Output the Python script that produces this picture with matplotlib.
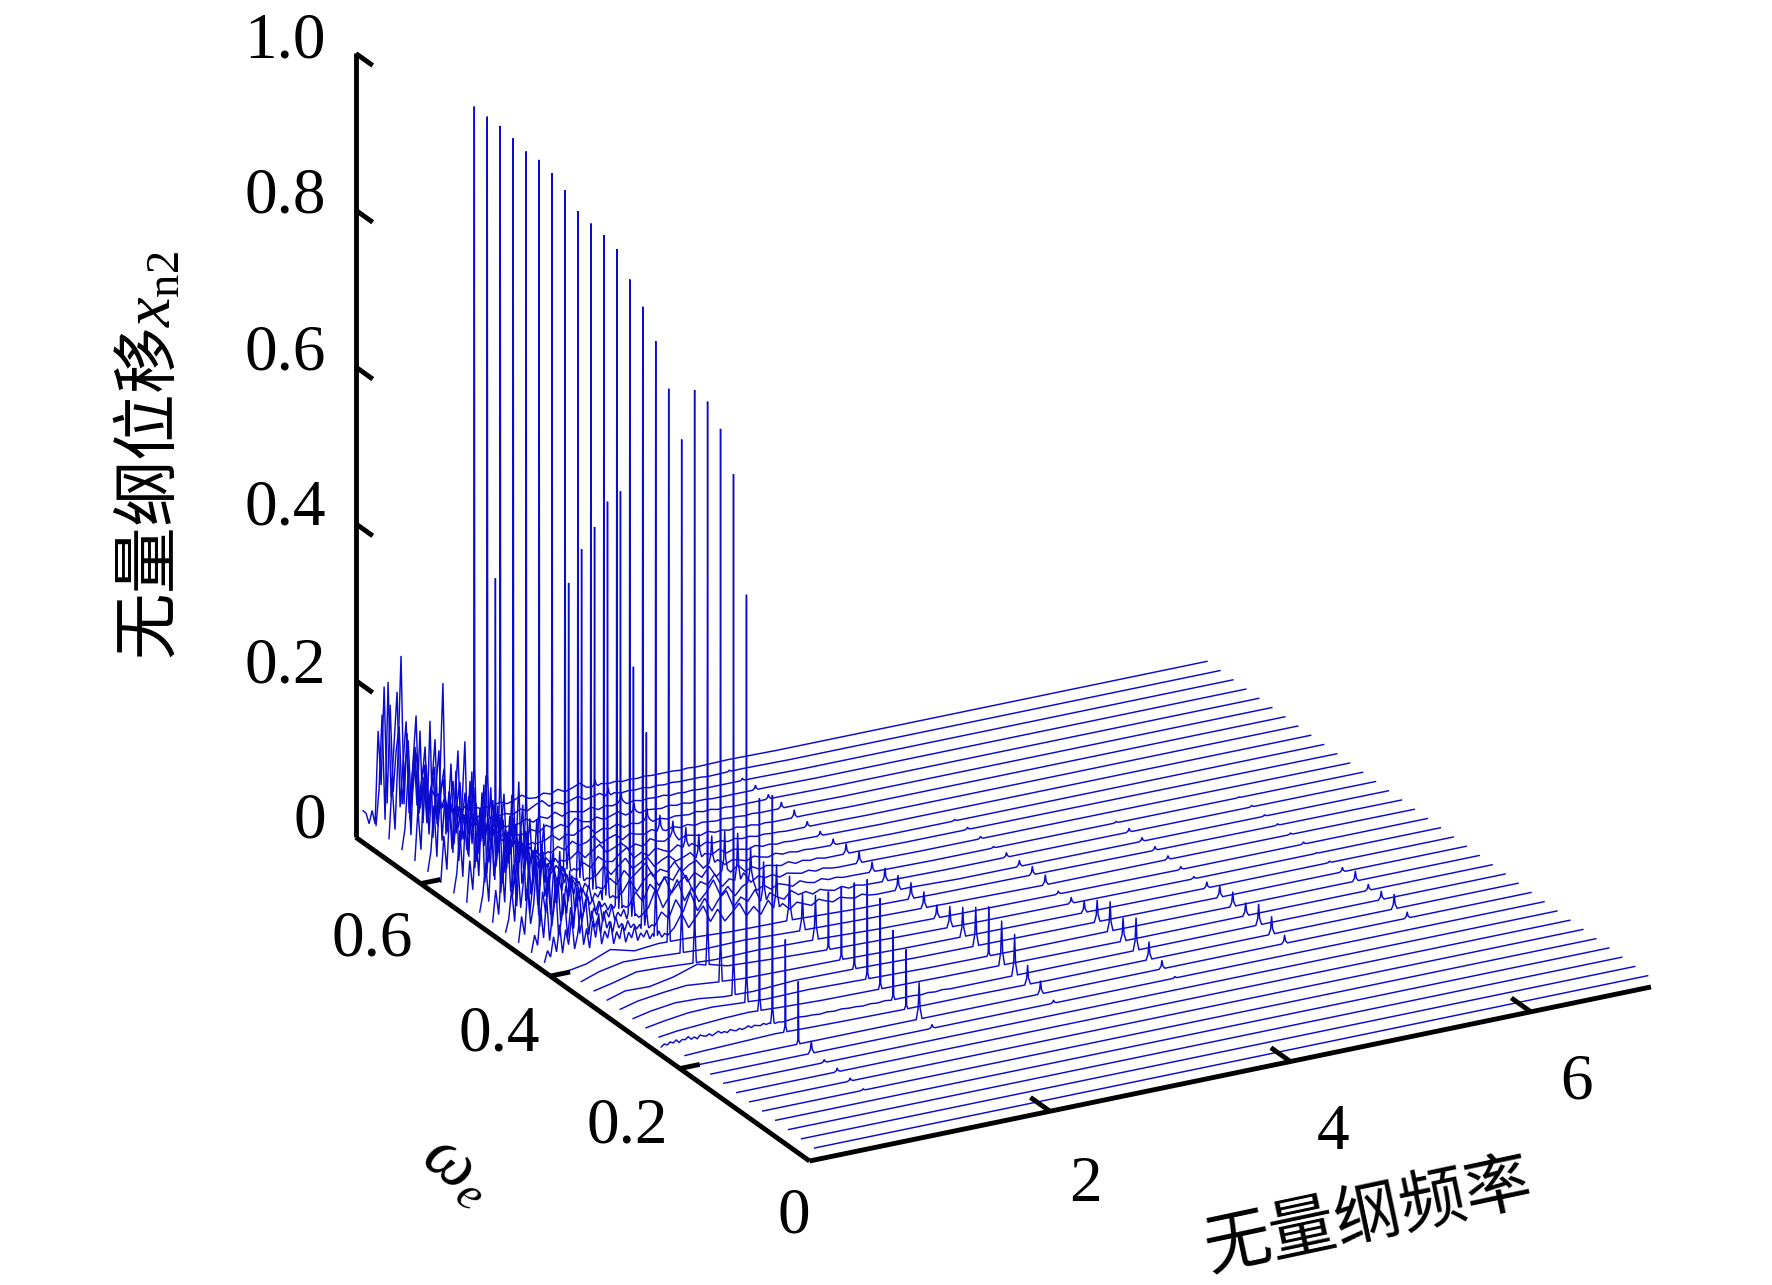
import matplotlib
matplotlib.use("Agg")
import matplotlib.pyplot as plt
import numpy as np
from mpl_toolkits.mplot3d import proj3d

plt.rcParams['font.family'] = ['Liberation Serif', 'DejaVu Sans']
plt.rcParams['mathtext.fontset'] = 'custom'
plt.rcParams['mathtext.rm'] = 'Liberation Serif'
plt.rcParams['mathtext.it'] = 'Liberation Serif:italic'

# traces run front to back, one per excitation frequency
omega_e = [round(0.02 * k, 2) for k in range(1, 36)]

# heights of the harmonic lines, index = trace number - 1
line_f = [0.985, 1.99, 3.0, 4.01, 5.03, 6.05]
line_1 = [0, 0, 0, 0, .002, .004, .005, .004, .016, .08, .118, .294, .278, .526, .668, .714, .737, .74, .665,
          .718, .767, .799, .822, .849, .855, .858, .862, .877, .887, .892, .891, .896, .9, .9, .901]
line_2 = [0, 0, 0, 0, 0, 0, 0, 0, .005, .047, .076, .089, .116, .127, .11, .093, .074, .057, .047,
          .057, .055, .05, .045, .06, .05, .035, .03, .025, .02, .02, .015, .012, .012, .01, .008]
line_3 = [0, 0, 0, 0, 0, 0, 0, 0, .004, .017, .025, .053, .057, .063, .05, .038, .027, .017, .021,
          .021, .019, .017, .013, .015, .013, .008, .006, .007, .01, .008, .006, .006, .003, .002, 0]
line_4 = [0, 0, 0, 0, 0, 0, 0, 0, .002, .011, .023, .042, .03, .038, .028, .015, .008, .004, .013,
          .011, .008, .006, .002, .003, .003, .002, 0, 0, 0, 0, 0, 0, 0, 0, 0]
line_5 = [0, 0, 0, 0, 0, 0, 0, 0, 0, .011, .023, .027, .017, .019, .015, .008, .003, .004, .005,
          .005, .005, .005, .002, 0, 0, 0, 0, 0, 0, 0, 0, 0, 0, 0, 0]
line_6 = [0, 0, 0, 0, 0, 0, 0, 0, 0, .008, .019, .011, .008, .013, .006, .002, .001, .003, .002,
          .002, .002, .002, .001, 0, 0, 0, 0, 0, 0, 0, 0, 0, 0, 0, 0]
line_amps = [line_1, line_2, line_3, line_4, line_5, line_6]

# the second, lower line next to the main one on some traces
side_trace = [22, 23, 24, 25, 26, 27, 28, 33]
side_f = [1.015, 1.015, 1.015, 1.015, 1.015, 1.015, 1.015, 0.945]
side_amp = [.255, .327, .539, .514, .47, .43, .375, .324]

# slow baseline of the quiet traces, thousandths
base_f = [.15, .3, .5, .7, .9, 1.15, 1.5, 2.0, 2.5, 3.2, 4.0, 5.0, 7.08]
base_rows = {
    11: [0, 1, 2, 3, 4, 3, 2, 1, 1, 0, 0, 0, 0],
    13: [0, 3, 5, 7, 8, 6, 4, 3, 2, 1, 0, 0, 0],
    14: [0, 4, 8, 9, 7, 5, 6, 4, 2, 1, 1, 0, 0],
    15: [0, 5, 9, 8, 4, 3, 6, 5, 3, 2, 1, 0, 0],
    16: [0, 6, 10, 13, 10, 7, 6, 5, 3, 2, 1, 0, 0],
    17: [0, 7, 6, 12, 22, 12, 9, 6, 4, 2, 1, 0, 0],
    18: [0, 5, 13, 12, 10, 8, 9, 7, 4, 2, 1, 0, 0],
    19: [0, 8, 14, 13, 11, 9, 10, 7, 5, 3, 1, 1, 0],
    20: [2, 6, 18, 10, 13, 12, 9, 8, 5, 3, 2, 1, 0],
}

# dense noisy part of the back traces, thousandths
noise_f = [round(.06 + .025 * i, 3) for i in range(42)]
noise_rows = {
    12: [2, 5, 3, 6, 4, 7, 3, 6, 5, 8, 4, 6, 3, 7, 5, 4, 6, 3, 5, 7, 4,
         5, 3, 6, 4, 3, 5, 3, 4, 6, 3, 5, 4, 3, 5, 3, 4, 3, 2, 3, 2, 2],
    21: [4, 18, 9, 34, 14, 48, 11, 40, 20, 55, 13, 30, 62, 16, 36, 10, 44, 22, 52, 12, 28,
         18, 38, 9, 24, 14, 32, 8, 20, 12, 26, 7, 16, 10, 18, 6, 12, 8, 14, 5, 9, 6],
    22: [5, 26, 12, 58, 20, 70, 15, 48, 88, 18, 40, 66, 14, 52, 24, 76, 16, 36, 58, 12, 42,
         20, 30, 11, 38, 16, 24, 9, 28, 13, 18, 8, 20, 10, 14, 7, 12, 6, 10, 5, 8, 6],
    23: [6, 38, 14, 72, 26, 50, 105, 20, 64, 36, 92, 17, 48, 78, 22, 56, 30, 84, 15, 40, 60,
         18, 34, 46, 13, 30, 20, 36, 10, 24, 14, 28, 9, 18, 12, 20, 7, 14, 8, 11, 6, 8],
    24: [7, 22, 60, 18, 95, 34, 70, 128, 24, 58, 88, 20, 110, 42, 66, 17, 78, 30, 96, 14, 50,
         36, 62, 16, 28, 44, 12, 34, 20, 26, 10, 22, 14, 18, 8, 15, 9, 12, 6, 10, 7, 8],
    25: [8, 48, 16, 84, 30, 118, 42, 76, 22, 100, 150, 26, 64, 36, 92, 18, 70, 120, 24, 52, 80,
         16, 44, 30, 58, 14, 36, 22, 42, 12, 26, 16, 30, 9, 18, 12, 20, 7, 13, 8, 10, 6],
    26: [9, 30, 70, 20, 104, 46, 140, 28, 86, 58, 124, 22, 74, 165, 34, 60, 96, 18, 50, 112, 26,
         68, 40, 20, 56, 30, 14, 44, 24, 34, 11, 26, 16, 22, 9, 18, 12, 14, 7, 10, 8, 6],
    27: [10, 62, 24, 98, 40, 132, 30, 82, 150, 36, 70, 110, 24, 92, 48, 135, 20, 66, 88, 30, 54,
         100, 18, 46, 34, 60, 14, 38, 24, 30, 12, 26, 18, 20, 9, 14, 11, 8, 12, 6, 9, 7],
    28: [10, 34, 88, 28, 120, 52, 160, 36, 96, 68, 140, 26, 84, 118, 32, 62, 104, 22, 74, 44, 90,
         20, 58, 36, 70, 16, 44, 26, 34, 14, 30, 18, 24, 10, 18, 12, 15, 8, 11, 7, 9, 6],
    29: [12, 70, 26, 110, 46, 150, 34, 100, 185, 40, 82, 124, 28, 96, 56, 136, 24, 72, 90, 34, 60,
         108, 20, 50, 38, 66, 16, 40, 26, 32, 12, 28, 18, 22, 9, 15, 10, 8, 12, 6, 8, 6],
    30: [14, 38, 96, 30, 130, 250, 56, 110, 36, 92, 160, 44, 76, 30, 118, 52, 88, 22, 100, 40, 66,
         26, 80, 18, 48, 60, 16, 36, 24, 30, 11, 22, 16, 12, 18, 8, 12, 7, 9, 5, 7, 5],
    31: [16, 80, 28, 120, 60, 190, 40, 105, 150, 34, 90, 62, 130, 26, 78, 104, 30, 56, 84, 22, 70,
         40, 52, 16, 44, 28, 36, 14, 26, 18, 22, 10, 16, 12, 8, 13, 7, 9, 6, 8, 5, 6],
    32: [18, 44, 110, 34, 140, 70, 165, 46, 120, 30, 95, 150, 38, 84, 110, 28, 66, 92, 24, 58, 40,
         74, 20, 48, 30, 40, 14, 30, 20, 24, 10, 18, 14, 8, 13, 7, 10, 6, 8, 5, 6, 4],
    33: [20, 90, 30, 125, 250, 60, 150, 38, 112, 170, 44, 86, 128, 30, 72, 100, 26, 62, 82, 20, 56,
         36, 44, 16, 38, 24, 30, 12, 22, 16, 10, 18, 8, 12, 6, 9, 7, 5, 7, 4, 5, 4],
    34: [25, 70, 165, 30, 205, 58, 125, 190, 42, 98, 150, 32, 80, 115, 28, 68, 90, 22, 54, 72, 18,
         46, 30, 36, 14, 28, 18, 24, 10, 16, 12, 8, 14, 6, 10, 7, 5, 8, 4, 6, 4, 5],
    35: [32, 28, 14, 30, 12, 130, 60, 185, 35, 160, 48, 100, 130, 30, 82, 110, 26, 64, 92, 20, 50,
         70, 18, 40, 30, 34, 14, 26, 16, 20, 9, 14, 10, 7, 11, 5, 8, 4, 6, 4, 5, 4],
}

# smaller ripple after the noisy part, thousandths
tail_f = [round(1.14 + .06 * i, 2) for i in range(29)] + [3.1, 3.5, 7.08]
tail_rows = {
    12: [3, 4, 3, 3, 2, 3, 2, 3, 2, 2, 1, 2, 1, 2, 1, 1, 1, 1, 0, 1, 0, 1, 0, 0, 0, 0, 0, 0, 0, 0, 0, 0],
    21: [14, 30, 10, 22, 34, 12, 26, 9, 18, 28, 10, 20, 8, 24, 12, 16, 7, 14, 10, 6, 12, 8, 5, 9, 6, 4, 7, 4, 3, 3, 1, 0],
    22: [22, 12, 34, 16, 40, 14, 28, 10, 24, 32, 9, 20, 13, 26, 8, 18, 11, 6, 15, 8, 10, 5, 9, 6, 4, 7, 3, 5, 3, 2, 1, 0],
    23: [16, 38, 12, 26, 44, 15, 30, 10, 20, 34, 12, 22, 8, 18, 24, 9, 14, 7, 12, 9, 5, 10, 6, 4, 7, 4, 5, 3, 3, 2, 1, 0],
    24: [24, 10, 30, 18, 36, 13, 24, 32, 9, 20, 14, 26, 8, 16, 11, 20, 6, 12, 8, 10, 5, 8, 6, 4, 6, 3, 5, 3, 2, 2, 1, 0],
    25: [12, 26, 9, 22, 30, 11, 20, 14, 28, 8, 18, 10, 22, 7, 14, 9, 16, 6, 10, 5, 8, 6, 4, 7, 3, 5, 3, 4, 2, 2, 1, 0],
    26: [18, 8, 24, 12, 20, 28, 9, 16, 11, 22, 7, 14, 18, 6, 10, 13, 5, 9, 7, 4, 8, 5, 3, 6, 3, 4, 2, 3, 2, 1, 0, 0],
    27: [10, 20, 7, 16, 24, 9, 14, 20, 6, 12, 16, 7, 10, 14, 5, 9, 6, 11, 4, 7, 5, 3, 6, 3, 4, 2, 3, 2, 2, 1, 0, 0],
    28: [14, 6, 18, 10, 8, 16, 22, 7, 12, 6, 14, 9, 5, 12, 7, 10, 4, 8, 5, 6, 3, 5, 3, 4, 2, 3, 2, 2, 1, 1, 0, 0],
    29: [8, 15, 5, 12, 18, 6, 10, 14, 5, 9, 4, 12, 7, 5, 10, 3, 7, 5, 3, 6, 3, 4, 2, 4, 2, 3, 1, 2, 1, 1, 0, 0],
    30: [11, 5, 14, 7, 9, 15, 4, 8, 11, 3, 9, 6, 4, 8, 5, 3, 6, 3, 5, 2, 4, 3, 2, 3, 2, 2, 1, 2, 1, 1, 0, 0],
    31: [7, 12, 4, 9, 6, 11, 14, 3, 7, 5, 9, 3, 6, 4, 7, 3, 5, 2, 4, 3, 2, 4, 2, 3, 1, 2, 1, 1, 1, 1, 0, 0],
    32: [9, 4, 11, 5, 8, 3, 12, 6, 4, 8, 3, 6, 9, 3, 5, 2, 4, 3, 2, 4, 2, 3, 1, 2, 2, 1, 1, 1, 1, 1, 0, 0],
    33: [5, 9, 3, 8, 4, 10, 3, 7, 5, 3, 7, 2, 5, 3, 6, 2, 4, 2, 3, 2, 3, 1, 2, 1, 2, 1, 1, 1, 1, 1, 0, 0],
    34: [6, 3, 8, 4, 9, 13, 4, 7, 3, 6, 9, 3, 5, 7, 2, 4, 2, 3, 2, 3, 1, 2, 1, 2, 1, 1, 1, 1, 0, 1, 0, 0],
    35: [4, 7, 3, 6, 10, 4, 3, 7, 4, 8, 3, 6, 10, 3, 2, 4, 2, 3, 1, 2, 1, 2, 1, 1, 1, 1, 0, 1, 0, 1, 0, 0],
}

x_ticks = [2, 4, 6]
w_ticks = [0.2, 0.4, 0.6]
z_ticks = [0.2, 0.4, 0.6, 0.8, 1.0]
x_max, w_max, z_max = 7.0, 0.7, 1.0

W, H = 1772, 1285
BLUE = '#0a0ad0'


def trace_points(k):
    if k in noise_rows:
        f = list(noise_f) + tail_f
        z = [v / 1000 for v in noise_rows[k] + tail_rows[k]]
    elif k in base_rows:
        f = list(base_f)
        z = [v / 1000 for v in base_rows[k]]
    else:
        f = [base_f[0], base_f[-1]]
        z = [0.0, 0.0]
    spikes = [(lf, amps[k - 1]) for lf, amps in zip(line_f, line_amps) if amps[k - 1] > 0]
    if k in side_trace:
        i = side_trace.index(k)
        spikes.append((side_f[i], side_amp[i]))
    for sf, amp in spikes:
        b = float(np.interp(sf, f, z))
        # tall lines were read as height above the floor, small ones above the trace
        top = max(amp, b) if amp > 0.2 else b + amp
        # tall lines keep a thin stem, small ones look like little triangles
        half, mid, share = (.014, .004, .06) if amp > 0.06 else (.024, .008, .3)
        keep = [i for i in range(len(f)) if abs(f[i] - sf) > half + .002]
        f = [f[i] for i in keep] + [sf - half, sf - mid, sf, sf + mid, sf + half]
        z = [z[i] for i in keep] + [b, b + share * (top - b), top, b + share * (top - b), b]
        order = np.argsort(f)
        f = [f[i] for i in order]
        z = [z[i] for i in order]
    return f, z


fig = plt.figure(figsize=(W / 100, H / 100), dpi=100)
ax = fig.add_axes([0, 0, 1, 1], projection='3d', proj_type='ortho', computed_zorder=False)
ax.view_init(elev=22.59, azim=241.7)
ax.set_xlim(0, x_max, view_margin=0)
ax.set_ylim(0, w_max, view_margin=0)
ax.set_zlim(0, z_max, view_margin=0)
ax.set_axis_off()
box = (955.7, 956.8, 849)
ax.set_box_aspect(box, zoom=1.0)


def to_pixels(x, y, z):
    x2, y2, _ = proj3d.proj_transform(x, y, z, ax.get_proj())
    return ax.transData.transform((x2, y2))


# fit the box so the front corner and the x axis end land where they should
fig.canvas.draw()
p0 = to_pixels(0, 0, 0)
p1 = to_pixels(x_max, 0, 0)
ax.set_box_aspect(box, zoom=841.5 / (p1[0] - p0[0]))
fig.canvas.draw()
p0 = to_pixels(0, 0, 0)
dx = (809.5 - p0[0]) / W
dy = ((H - 1161) - p0[1]) / H
ax.set_position([dx, dy, 1, 1])

for k, w in sorted(zip(range(1, 36), omega_e), reverse=True):
    f, z = trace_points(k)
    ax.plot(f, [w] * len(f), z, color=BLUE, lw=1.05, solid_joinstyle='miter', clip_on=False)

axis_style = dict(color='black', lw=3.5, solid_capstyle='butt', clip_on=False)
ax.plot([0, x_max], [0, 0], [0, 0], **axis_style)
ax.plot([0, 0], [0, w_max], [0, 0], **axis_style)
ax.plot([0, 0], [w_max, w_max], [0, z_max], **axis_style)
for t in x_ticks:
    ax.plot([t, t], [0, .03], [0, 0], **axis_style)
for t in w_ticks:
    ax.plot([0, .165], [t, t], [0, 0], **axis_style)
for t in z_ticks:
    ax.plot([0, 0], [w_max, w_max - .026], [t, t], **axis_style)


def label(px, py, s, **kw):
    fig.text(px / W, 1 - py / H, s, **kw)


num = dict(fontsize=47, ha='center', va='center')
for s, py in zip(['1.0', '0.8', '0.6', '0.4', '0.2'], [42, 197, 354, 509, 667]):
    label(326, py, s, fontsize=47, ha='right', va='center')
label(326, 822, '0', fontsize=47, ha='right', va='center')
label(372, 940, '0.6', **num)
label(499, 1035, '0.4', **num)
label(627, 1127, '0.2', **num)
label(794, 1217, '0', **num)
label(1085, 1185, '2', **num)
label(1333, 1133, '4', **num)
label(1577, 1083, '6', **num)

cjk = ['Noto Sans CJK SC', 'DejaVu Sans']
label(151, 456, '无量纲位移$\\mathit{x}_{\\mathrm{n2}}$', fontsize=48, rotation=90,
      ha='center', va='center', family=cjk)
label(1368, 1217, '无量纲频率', fontsize=48, rotation=12, ha='center', va='center', family=cjk)
label(458, 1170, '$\\mathit{\\omega}_{\\mathit{e}}$', fontsize=50, rotation=-38, ha='center', va='center')

fig.savefig('out.png', dpi=100)
